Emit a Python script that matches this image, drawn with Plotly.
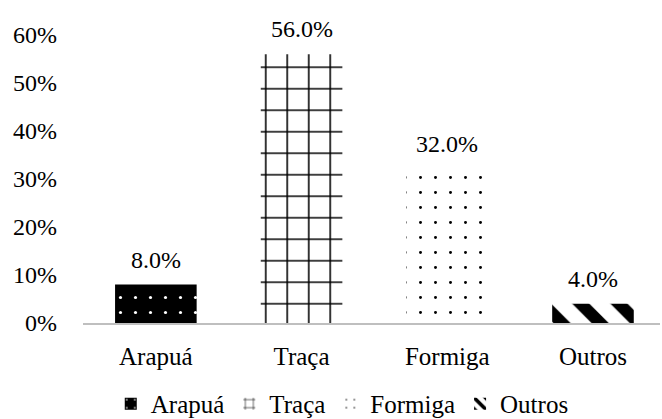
import plotly.graph_objects as go

categories = ["Arapuá", "Traça", "Formiga", "Outros"]
values = [0.08, 0.56, 0.32, 0.04]
tick_vals = [0, 0.1, 0.2, 0.3, 0.4, 0.5, 0.6]
tick_text = ["0%", "10%", "20%", "30%", "40%", "50%", "60%"]

patterns = [
    dict(shape=".", bgcolor="black", fgcolor="white", size=15, solidity=0.035, fillmode="replace"),
    dict(shape="+", bgcolor="white", fgcolor="black", size=21.5, solidity=0.14, fillmode="replace"),
    dict(shape=".", bgcolor="white", fgcolor="black", size=15, solidity=0.03, fillmode="replace"),
    dict(shape="\\", bgcolor="white", fgcolor="black", size=27, solidity=0.45, fillmode="replace"),
]

FAM = "Liberation Serif, Times New Roman, serif"
font = dict(family=FAM, size=25, color="black")
tick_font = dict(family=FAM, size=24, color="black")

fig = go.Figure()
for cat, val, pat in zip(categories, values, patterns):
    fig.add_trace(go.Bar(
        x=[cat], y=[val], name=cat, width=0.56,
        marker=dict(color="white", line=dict(width=0), pattern=pat),
    ))

for cat, val in zip(categories, values):
    fig.add_annotation(x=cat, y=val, text=f"{val:.1%}", showarrow=False,
                       yanchor="bottom", yshift=10, font=tick_font)

fig.update_layout(
    width=662, height=419,
    margin=dict(l=83, r=2, t=35, b=96),
    paper_bgcolor="white", plot_bgcolor="white",
    barmode="overlay",
    font=font,
    showlegend=True,
    legend=dict(orientation="h", xref="container", x=0.517, xanchor="center",
                yref="container", y=0.036, yanchor="middle",
                font=font, itemwidth=30),
    xaxis=dict(showgrid=False, showline=True, linecolor="#bfbfbf", linewidth=2, ticks="",
               tickfont=font, range=[-0.5, 3.46], automargin=False, ticklabelstandoff=10),
    yaxis=dict(range=[0, 0.6], tickvals=tick_vals, ticktext=tick_text, showgrid=False,
               zeroline=False, showline=False, ticks="", tickfont=tick_font,
               ticklabelstandoff=25, automargin=False),
)

fig.write_html("out.html", config={"displayModeBar": False},
               post_script="document.body.style.margin='0';document.body.style.overflow='hidden';")
